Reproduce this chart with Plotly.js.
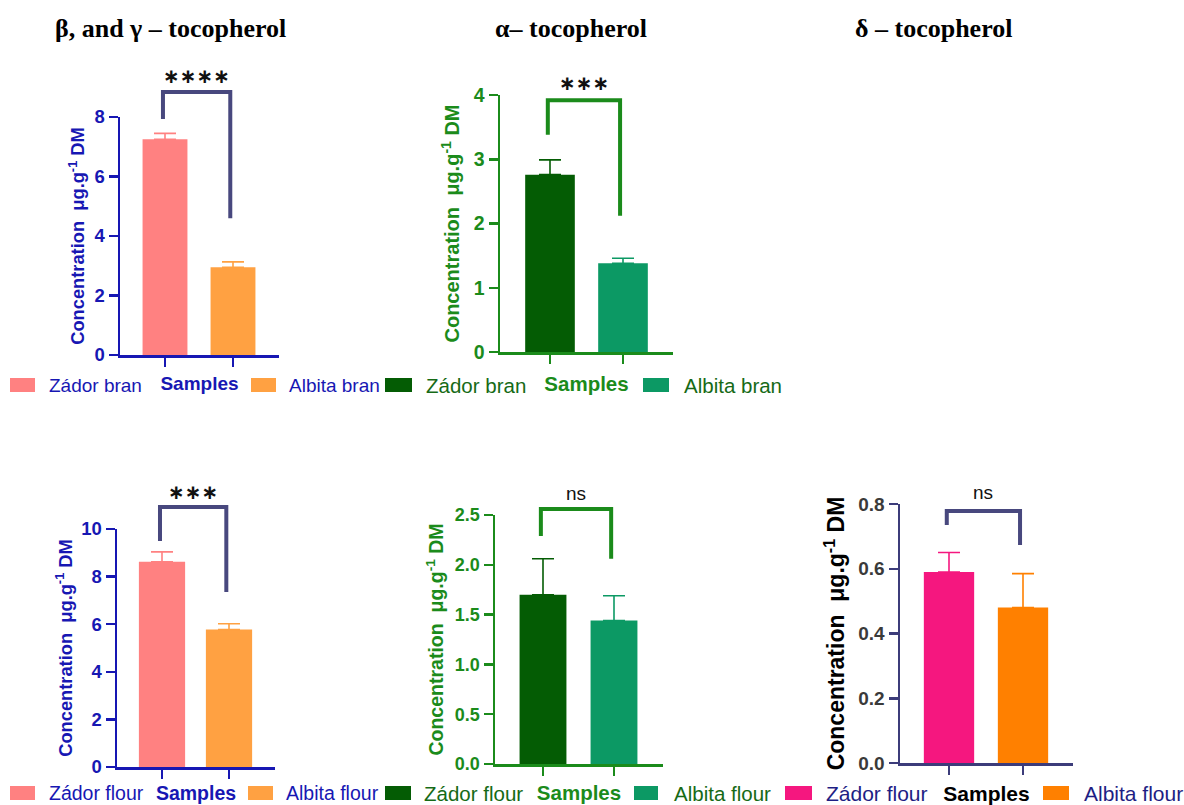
<!DOCTYPE html>
<html><head><meta charset="utf-8">
<script src="https://cdn.plot.ly/plotly-3.0.1.min.js"></script>
<style>html,body{margin:0;padding:0;background:#fff;overflow:hidden}</style>
</head><body><div id="chart" style="width:1184px;height:805px"></div>
<script>
// ---------------- DATA ----------------
const catBran = ['Zádor bran', 'Albita bran'];
const catFlour = ['Zádor flour', 'Albita flour'];
const xAxisLabel = 'Samples';
const yAxisLabel = 'Concentration&nbsp; μg.g<sup>-1</sup> DM';
const panelTitles = ['β, and γ – tocopherol', 'α– tocopherol', 'δ – tocopherol'];

// mean and (upper) error, µg/g DM
const betaGammaBranMean = [7.25, 2.95];
const betaGammaBranErr = [0.20, 0.18];
const alphaBranMean = [2.76, 1.38];
const alphaBranErr = [0.23, 0.08];
const betaGammaFlourMean = [8.62, 5.78];
const betaGammaFlourErr = [0.42, 0.24];
const alphaFlourMean = [1.70, 1.44];
const alphaFlourErr = [0.36, 0.25];
const deltaFlourMean = [0.59, 0.48];
const deltaFlourErr = [0.06, 0.105];

// significance: label, bracket [top, left foot, right foot], label height
const sigLabels = ['∗∗∗∗', '∗∗∗', '∗∗∗', 'ns', 'ns'];
const bracketBetaGammaBran = [8.84, 7.93, 4.6];
const bracketAlphaBran = [3.92, 3.38, 2.12];
const bracketBetaGammaFlour = [10.92, 9.5, 7.35];
const bracketAlphaFlour = [2.56, 2.29, 2.06];
const bracketDeltaFlour = [0.778, 0.735, 0.673];
const sigLabelY = [9.38, 4.19, 11.55, 2.72, 0.834];

// y-axis ticks
const yTicksBetaGammaBran = [0, 2, 4, 6, 8];
const yTicksAlphaBran = [0, 1, 2, 3, 4];
const yTicksBetaGammaFlour = [0, 2, 4, 6, 8, 10];
const yTicksAlphaFlour = [0, 0.5, 1.0, 1.5, 2.0, 2.5];
const yTicksDeltaFlour = [0, 0.2, 0.4, 0.6, 0.8];

// ---------------- STYLE / LAYOUT ----------------
const W = 1184, H = 805;
const BLUE = '#1717b3', GREEN = '#1b8b1b', SLATE = '#48487e';
const panels = [
  {cats: catBran, mean: betaGammaBranMean, err: betaGammaBranErr, br: bracketBetaGammaBran, ticks: yTicksBetaGammaBran,
   box: {xl: 120, xr: 279, t0: 165, t1: 233, y0: 355, yt: 117}, bw: 0.66, fmt: 'd',
   colors: ['#ff8181', '#ffa142'], axis: BLUE, tickc: BLUE, titlec: BLUE, tsize: 18.3, ticksize: 18.5,
   legc: BLUE, sampc: BLUE, brc: SLATE, lsize: 19, stand: 5, xstand: 11,
   sw: [[10, 35], [251, 276]], lx: [48, 288], ly: 385},
  {cats: catBran, mean: alphaBranMean, err: alphaBranErr, br: bracketAlphaBran, ticks: yTicksAlphaBran,
   box: {xl: 500, xr: 673, t0: 550, t1: 623, y0: 352, yt: 95}, bw: 0.68, fmt: 'd',
   colors: ['#045c04', '#0c9964'], axis: GREEN, tickc: GREEN, titlec: GREEN, tsize: 20, ticksize: 19.5,
   legc: '#166a16', sampc: GREEN, brc: GREEN, lsize: 20.5, stand: 9, xstand: 14,
   sw: [[385, 412], [643, 669]], lx: [425, 683], ly: 385},
  {cats: catFlour, mean: betaGammaFlourMean, err: betaGammaFlourErr, br: bracketBetaGammaFlour, ticks: yTicksBetaGammaFlour,
   box: {xl: 117, xr: 275, t0: 162, t1: 229, y0: 767, yt: 529}, bw: 0.69, fmt: 'd',
   colors: ['#ff8181', '#ffa142'], axis: BLUE, tickc: BLUE, titlec: BLUE, tsize: 18.3, ticksize: 18.5,
   legc: BLUE, sampc: BLUE, brc: SLATE, lsize: 19.5, stand: 4, xstand: 9,
   sw: [[10, 35], [248, 273]], lx: [48, 285], ly: 793},
  {cats: catFlour, mean: alphaFlourMean, err: alphaFlourErr, br: bracketAlphaFlour, ticks: yTicksAlphaFlour,
   box: {xl: 495, xr: 663, t0: 543, t1: 614, y0: 764, yt: 515}, bw: 0.66, fmt: '.1f',
   colors: ['#045c04', '#0c9964'], axis: GREEN, tickc: GREEN, titlec: GREEN, tsize: 19.5, ticksize: 18,
   legc: '#166a16', sampc: GREEN, brc: GREEN, lsize: 20.5, stand: 6, xstand: 11,
   sw: [[385, 411], [634, 658]], lx: [423, 673], ly: 793},
  {cats: catFlour, mean: deltaFlourMean, err: deltaFlourErr, br: bracketDeltaFlour, ticks: yTicksDeltaFlour,
   box: {xl: 900, xr: 1073, t0: 949, t1: 1023, y0: 763, yt: 504}, bw: 0.68, fmt: '.1f',
   colors: ['#f5177f', '#ff8000'], axis: '#3c3c7a', tickc: '#3a3a3a', titlec: '#000000', tsize: 23, ticksize: 19,
   legc: '#1e1e84', sampc: '#000000', brc: SLATE, lsize: 21, stand: 7, xstand: 13,
   sw: [[785, 812], [1043, 1069]], lx: [825, 1083], ly: 793}
];

const SANS = 'Liberation Sans, Arial, sans-serif';
const SERIF = 'Liberation Serif, Times New Roman, serif';

const data = [];
const layout = {
  width: W, height: H, margin: {l: 0, r: 0, t: 0, b: 0},
  paper_bgcolor: '#ffffff', plot_bgcolor: '#ffffff',
  showlegend: false, barmode: 'overlay',
  shapes: [], annotations: []
};

panels.forEach((p, i) => {
  const n = i === 0 ? '' : String(i + 1);
  const xa = 'x' + n, ya = 'y' + n;
  const b = p.box;
  const step = b.t1 - b.t0;
  const xr0 = (b.xl - b.t0) / step, xr1 = (b.xr - b.t0) / step;
  const ymax = p.ticks[p.ticks.length - 1];

  // bars with upward error bars
  p.cats.forEach((c, k) => {
    data.push({
      type: 'bar', x: [c], y: [p.mean[k]], xaxis: xa, yaxis: ya, name: c,
      width: p.bw, marker: {color: p.colors[k], line: {width: 0}},
      error_y: {type: 'data', symmetric: false, array: [p.err[k]], arrayminus: [0],
                color: p.colors[k], thickness: 1.6, width: 11},
      hoverinfo: 'x+y'
    });
  });

  layout['xaxis' + n] = {
    domain: [b.xl / W, b.xr / W], anchor: ya, type: 'category',
    categoryorder: 'array', categoryarray: p.cats,
    range: [xr0, xr1], showgrid: false, zeroline: false,
    showline: true, linecolor: p.axis, linewidth: 2.5,
    ticks: 'outside', ticklen: 9, tickwidth: 2.5, tickcolor: p.axis,
    showticklabels: false, fixedrange: true,
    title: {text: xAxisLabel, standoff: p.xstand, font: {family: SANS, size: p.lsize, color: p.sampc, weight: 'bold'}}
  };
  layout['yaxis' + n] = {
    domain: [1 - b.y0 / H, 1 - b.yt / H], anchor: xa,
    range: [0, ymax], tickvals: p.ticks, tickformat: p.fmt,
    showgrid: false, zeroline: false,
    showline: true, linecolor: p.axis, linewidth: 2.5,
    ticks: 'outside', ticklen: 9, tickwidth: 2.5, tickcolor: p.axis,
    tickfont: {family: SANS, size: p.ticksize, color: p.tickc, weight: 'bold'},
    fixedrange: true,
    title: {text: yAxisLabel, standoff: p.stand, font: {family: SANS, size: p.tsize, color: p.titlec, weight: 'bold'}}
  };

  // significance bracket (in axis-domain fractions, computed from data values)
  const fx = v => (v - xr0) / (xr1 - xr0);
  const fy = v => v / ymax;
  const bxL = fx(-0.03), bxR = fx(0.96);
  layout.shapes.push({
    type: 'path', xref: xa + ' domain', yref: ya + ' domain',
    path: `M${bxL},${fy(p.br[1])} L${bxL},${fy(p.br[0])} L${bxR},${fy(p.br[0])} L${bxR},${fy(p.br[2])}`,
    line: {color: p.brc, width: 4}
  });
  const isNs = sigLabels[i] === 'ns';
  layout.annotations.push({
    xref: xa + ' domain', yref: ya + ' domain', x: (bxL + bxR) / 2, y: fy(sigLabelY[i]),
    text: sigLabels[i], showarrow: false, xanchor: 'center', yanchor: 'middle',
    font: isNs ? {family: SANS, size: 19, color: '#111111'} : {family: 'DejaVu Sans', size: 20, color: '#111111', weight: 'bold'}
  });

  // legend row: swatches + labels
  p.cats.forEach((c, k) => {
    layout.shapes.push({
      type: 'rect', xref: 'paper', yref: 'paper',
      x0: p.sw[k][0] / W, x1: p.sw[k][1] / W,
      y0: 1 - (p.ly + 7) / H, y1: 1 - (p.ly - 7) / H,
      fillcolor: p.colors[k], line: {width: 0}
    });
    layout.annotations.push({
      xref: 'paper', yref: 'paper', x: p.lx[k] / W, y: 1 - p.ly / H,
      xanchor: 'left', yanchor: 'middle', showarrow: false, text: c,
      font: {family: SANS, size: p.lsize, color: p.legc}, borderpad: 0
    });
  });
});

// panel titles
const titleX = [170, 571, 933];
panelTitles.forEach((t, i) => {
  layout.annotations.push({
    xref: 'paper', yref: 'paper', x: titleX[i] / W, y: 1 - 28 / H,
    xanchor: 'center', yanchor: 'middle', showarrow: false, text: t,
    font: {family: SERIF, size: 26, color: '#000000', weight: 'bold'}
  });
});

Plotly.newPlot('chart', data, layout, {displayModeBar: false, staticPlot: true});
</script>
</body></html>
